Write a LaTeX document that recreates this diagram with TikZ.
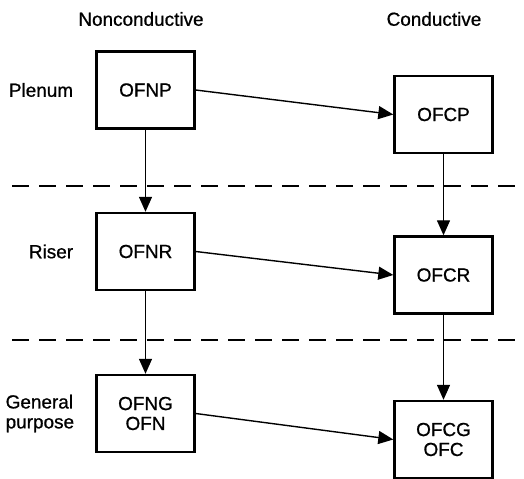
\documentclass[tikz,border=0pt]{standalone}
\usepackage{fontspec}
\setmainfont{Liberation Sans}[FakeBold=0.8]
\usetikzlibrary{arrows.meta,positioning}

\begin{document}
\begin{tikzpicture}[x=1bp, y=-1bp, font=\fontsize{19}{20}\selectfont, cable/.style={draw, line width=2.4bp, minimum width=98bp, minimum height=77bp, align=center}, link/.style={-{Triangle[length=15bp,width=13bp]}, line width=1.4bp}, divider/.style={line width=2.4bp, dash pattern=on 17bp off 10bp}, rating/.style={inner sep=0pt, align=left}]
\useasboundingbox (0,0) rectangle (524,479);
\node (hnon) at (141,19) {Nonconductive}; \node (hcon) at (434,19) {Conductive};
\node[cable] (nofnp) at (145.5,90) {OFNP}; \node[cable] (nofcp) at (443.5,114.5) {OFCP};
\node[cable] (nofnr) at (145.5,251.5) {OFNR}; \node[cable] (nofcr) at (443.5,275) {OFCR};
\node[cable] (nofng) at (145.5,413.5) {OFNG\\OFN}; \node[cable] (nofcg) at (443.5,439.5) {OFCG\\OFC};
\node[rating, left=22bp of nofnp] (lplenum) {Plenum};
\node[rating, left=22bp of nofnr] (lriser) {Riser};
\node[rating, left=21bp of nofng] (lgeneral) {General\\purpose};
\draw[divider] (12,186) -- (524,186); \draw[divider] (12,340) -- (524,340);
\draw[link] (nofnp) -- (nofnr); \draw[link] (nofnr) -- (nofng);
\draw[link] (nofcp) -- (nofcr); \draw[link] (nofcr) -- (nofcg);
\draw[link] (nofnp.east) -- (nofcp.west); \draw[link] (nofnr.east) -- (nofcr.west); \draw[link] (nofng.east) -- (nofcg.west);
\end{tikzpicture}
\end{document}
